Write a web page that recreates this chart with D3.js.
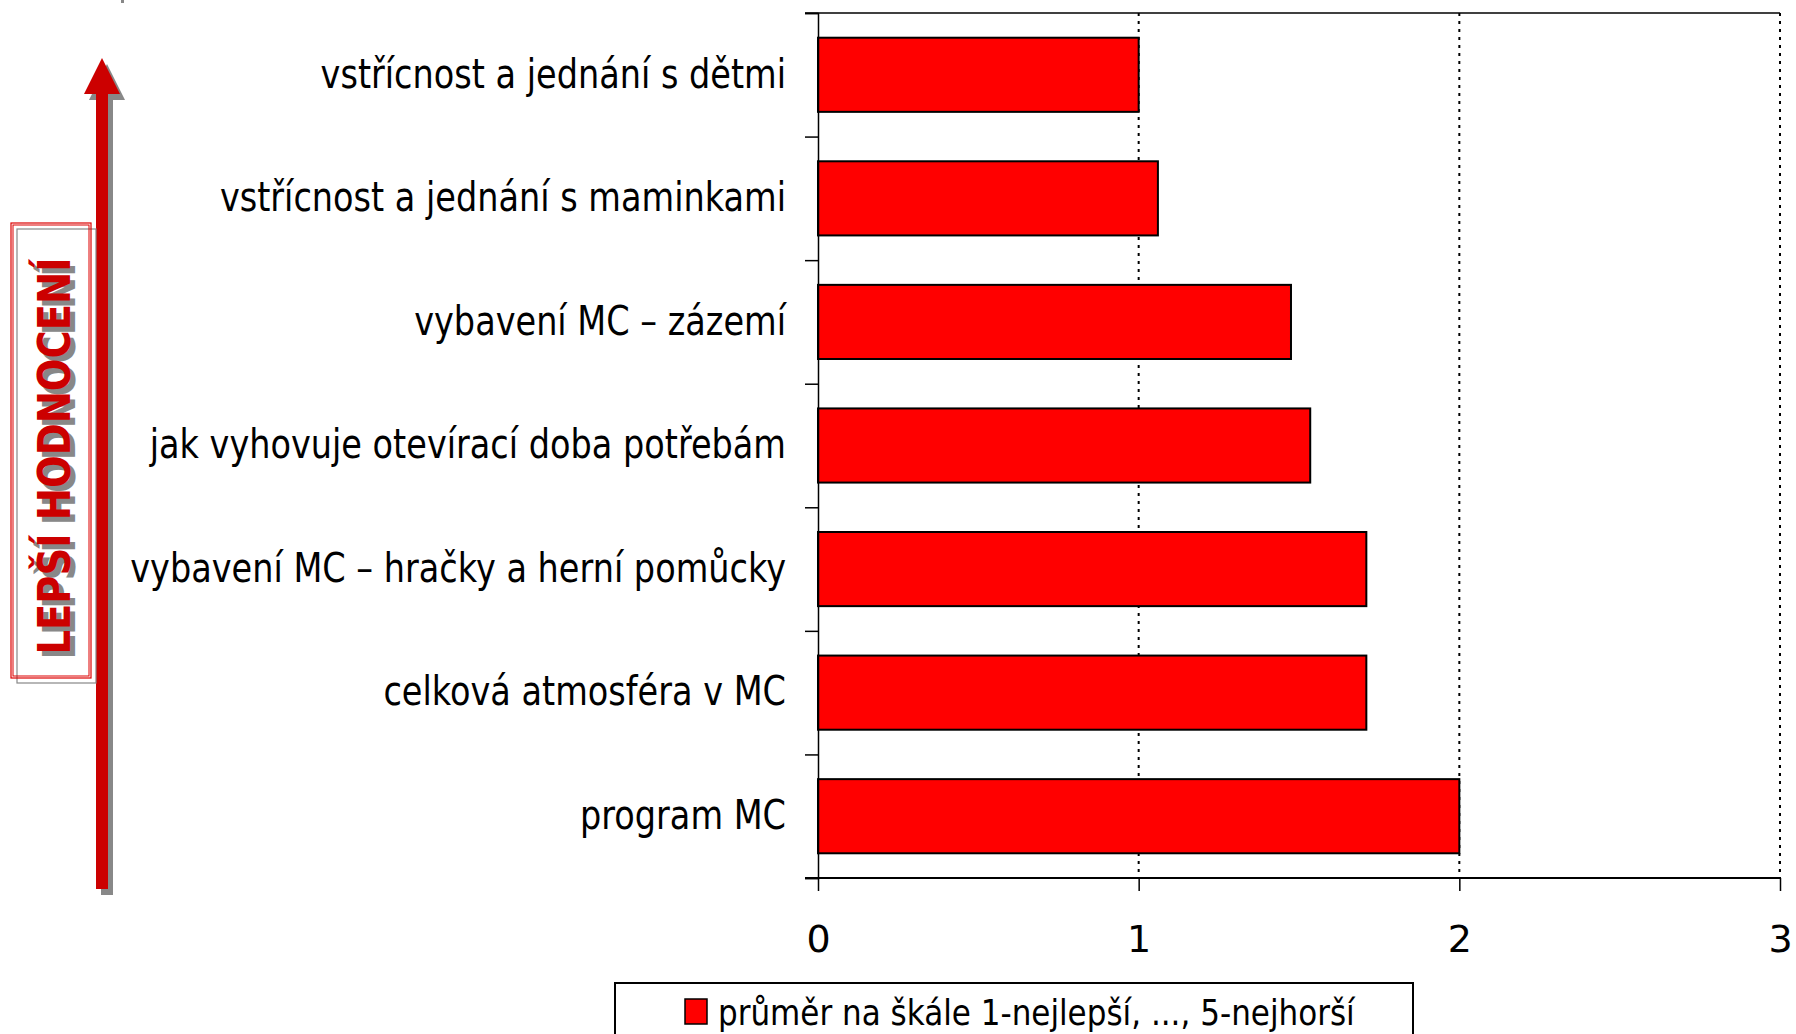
<!DOCTYPE html>
<html>
<head>
<meta charset="utf-8">
<script src="https://cdn.jsdelivr.net/npm/d3@7"></script>
<style>
  body { margin: 0; background: #fff; }
  svg { display: block; }
  text { font-family: "DejaVu Sans", Verdana, sans-serif; }
</style>
</head>
<body>
<svg id="chart" width="1796" height="1034"></svg>
<script>
// data
var categories = [
  "vstřícnost a jednání s dětmi",
  "vstřícnost a jednání s maminkami",
  "vybavení MC – zázemí",
  "jak vyhovuje otevírací doba potřebám",
  "vybavení MC – hračky a herní pomůcky",
  "celková atmosféra v MC",
  "program MC"
];
var values = [1.0, 1.06, 1.475, 1.535, 1.71, 1.71, 2.0];
var xTicks = [0, 1, 2, 3];
var seriesName = "průměr na škále 1-nejlepší, ..., 5-nejhorší";
var sideLabel = "LEPŠÍ HODNOCENÍ";

var svg = d3.select('#chart');

var plot = {left: 818, right: 1780, top: 13, bottom: 878};

var x = d3.scaleLinear().domain([0, 3]).range([plot.left, plot.right]);
var y = d3.scaleBand().domain(categories)
    .range([plot.top, plot.bottom])
    .paddingInner(0.4).paddingOuter(0.2);

// dotted gridlines
svg.append('g')
   .selectAll('line')
   .data(xTicks.slice(1))
   .enter().append('line')
   .attr('x1', function(d) { return x(d) })
   .attr('x2', function(d) { return x(d) })
   .attr('y1', plot.top)
   .attr('y2', plot.bottom)
   .attr('stroke', '#000')
   .attr('stroke-width', 2)
   .attr('stroke-dasharray', '3,5');

// top border
svg.append('line')
   .attr('x1', plot.left - 13).attr('x2', plot.right)
   .attr('y1', plot.top).attr('y2', plot.top)
   .attr('stroke', '#000').attr('stroke-width', 1.5);

// bars
svg.append('g')
   .selectAll('rect')
   .data(values)
   .enter().append('rect')
   .attr('x', x(0))
   .attr('y', function(d, i) { return y(categories[i]) })
   .attr('width', function(d) { return x(d) - x(0) })
   .attr('height', y.bandwidth())
   .attr('fill', '#ff0000')
   .attr('stroke', '#000')
   .attr('stroke-width', 2);

// y axis: ticks between categories
var yEdges = d3.scaleLinear().domain([0, categories.length]).range([plot.top, plot.bottom]);
svg.append('g')
   .attr('transform', 'translate(' + plot.left + ',0)')
   .call(d3.axisLeft(yEdges).ticks(categories.length).tickSize(13).tickFormat(''))
   .call(function(g) {
      g.select('.domain').attr('stroke-width', 1.5);
      g.selectAll('.tick line').attr('stroke-width', 1.5);
   });

// category labels
var labels = svg.append('g')
   .attr('transform', 'translate(' + plot.left + ',0)')
   .call(d3.axisLeft(y).tickSize(0).tickPadding(0));
labels.select('.domain').remove();
labels.selectAll('text')
   .attr('x', 0)
   .attr('font-size', 40)
   .attr('font-family', '"DejaVu Sans", sans-serif')
   .attr('fill', '#000');

// squeeze labels horizontally to match the narrow face of the original
var widest = 0;
labels.selectAll('text').each(function() {
   widest = Math.max(widest, this.getComputedTextLength());
});
var sx = 656 / widest;
labels.selectAll('text').attr('transform', 'translate(-32,0) scale(' + sx + ',1)');

// x axis
var xAxis = svg.append('g')
   .attr('transform', 'translate(0,' + plot.bottom + ')')
   .call(d3.axisBottom(x).tickValues(xTicks).tickSize(13).tickPadding(34).tickFormat(d3.format('d')));
xAxis.select('.domain').attr('stroke-width', 2).attr('d', 'M' + (plot.left - 13) + ',0H' + plot.right);
xAxis.selectAll('.tick line').attr('stroke-width', 1.5);
xAxis.selectAll('text')
   .attr('font-size', 38)
   .attr('font-family', '"DejaVu Sans", sans-serif')
   .attr('fill', '#000');

// legend
var legend = svg.append('g');
legend.append('rect')
   .attr('x', 615).attr('y', 983)
   .attr('width', 798).attr('height', 70)
   .attr('fill', '#fff')
   .attr('stroke', '#000')
   .attr('stroke-width', 2);
legend.append('rect')
   .attr('x', 685).attr('y', 999)
   .attr('width', 22).attr('height', 25)
   .attr('fill', '#ff0000')
   .attr('stroke', '#000')
   .attr('stroke-width', 1.5);
var legText = legend.append('text')
   .attr('x', 718).attr('y', 1012)
   .attr('dy', '0.35em')
   .attr('font-size', 36)
   .attr('fill', '#000')
   .text(seriesName);
var lw = legText.node().getComputedTextLength();
legText.attr('transform', 'translate(718,0) scale(' + (637 / lw) + ',1) translate(-718,0)');

// "better rating" arrow on the left
var deco = svg.append('g');

function arrowPath(dx, dy) {
   return 'M' + (96 + dx) + ',' + (889 + dy) +
          'V' + (94 + dy) + 'H' + (84 + dx) +
          'L' + (102 + dx) + ',' + (58 + dy) +
          'L' + (120 + dx) + ',' + (94 + dy) +
          'H' + (108 + dx) + 'V' + (889 + dy) + 'Z';
}
deco.append('path').attr('d', arrowPath(5, 6)).attr('fill', '#888');
deco.append('path').attr('d', arrowPath(0, 0)).attr('fill', '#cc0000');

// framed label
deco.append('rect')
   .attr('x', 17).attr('y', 229).attr('width', 79).attr('height', 454)
   .attr('fill', 'none').attr('stroke', '#888').attr('stroke-width', 1.2);
deco.append('rect')
   .attr('x', 11).attr('y', 223).attr('width', 80).attr('height', 455)
   .attr('fill', 'none').attr('stroke', '#dd0000').attr('stroke-width', 1.2);
deco.append('rect')
   .attr('x', 13).attr('y', 225).attr('width', 76).attr('height', 451)
   .attr('fill', 'none').attr('stroke', '#dd0000').attr('stroke-width', 1);

[['#888', 5, 5], ['#cc0000', 0, 0]].forEach(function(s) {
   deco.append('text')
      .attr('transform', 'translate(' + (70 + s[1]) + ',' + (456 + s[2]) + ') rotate(-90)')
      .attr('text-anchor', 'middle')
      .attr('font-size', 44)
      .attr('font-weight', 'bold')
      .attr('textLength', 397)
      .attr('lengthAdjust', 'spacingAndGlyphs')
      .attr('fill', s[0])
      .text(sideLabel);
});

// stray mark at the top edge
deco.append('rect').attr('x', 121).attr('y', 0).attr('width', 3).attr('height', 3).attr('fill', '#888');
</script>
</body>
</html>
